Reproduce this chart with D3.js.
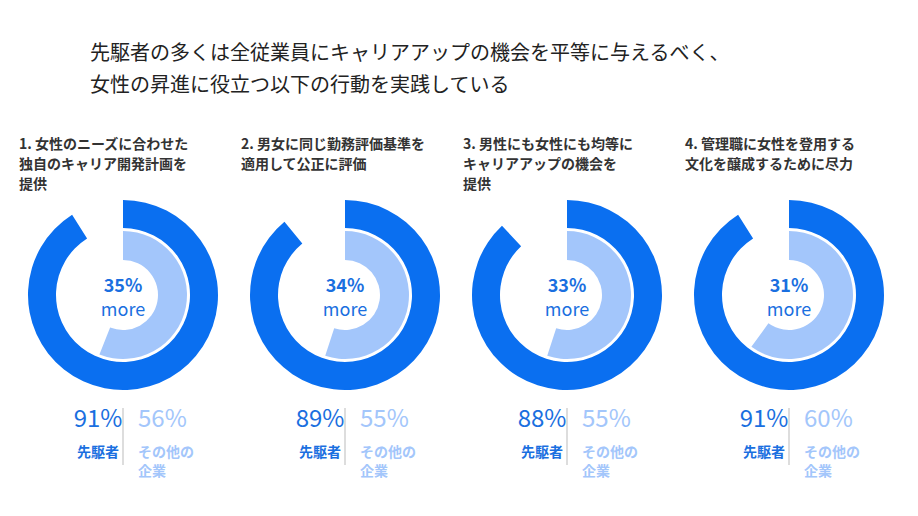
<!DOCTYPE html><html><head><meta charset="utf-8"><script src="https://cdn.jsdelivr.net/npm/d3@7"></script>
<style>body{margin:0;background:#fff}text{font-family:"Noto Sans CJK JP",sans-serif}</style></head><body>
<svg id="c" width="918" height="516"></svg>
<script>
const titleLines=["先駆者の多くは全従業員にキャリアアップの機会を平等に与えるべく、","女性の昇進に役立つ以下の行動を実践している"];
const headings=[["1. 女性のニーズに合わせた","独自のキャリア開発計画を","提供"],["2. 男女に同じ勤務評価基準を","適用して公正に評価"],["3. 男性にも女性にも均等に","キャリアアップの機会を","提供"],["4. 管理職に女性を登用する","文化を醸成するために尽力"]];
const leaders=[91,89,88,91];
const others=[56,55,55,60];
const diffs=[35,34,33,31];
const labelLeader="先駆者", labelOther=["その他の","企業"];
const svg=d3.select("#c");
const dark="#0a6ff0", light="#a3c6fb", txt="#1a6fe0";
svg.selectAll("text.t").data(titleLines).join("text").attr("x",90).attr("y",(d,i)=>60+i*32).attr("font-size",20).attr("fill","#222").text(d=>d);
const x=d3.scaleLinear().domain([0,3]).range([123,789]);
const ang=d3.scaleLinear().domain([0,100]).range([0,2*Math.PI]);
headings.forEach((h,i)=>{
 const cx=x(i), g=svg.append("g");
 g.selectAll("text.h").data(h).join("text").attr("x",cx-104).attr("y",(d,j)=>149+j*20).attr("font-size",14).attr("font-weight","bold").attr("fill","#333").text(d=>d);
 const c=g.append("g").attr("transform",`translate(${cx},295)`);
 c.append("path").attr("d",d3.arc()({innerRadius:67,outerRadius:95,startAngle:0,endAngle:ang(leaders[i])})).attr("fill",dark);
 c.append("path").attr("d",d3.arc()({innerRadius:35,outerRadius:64,startAngle:0,endAngle:ang(others[i])})).attr("fill",light);
 c.append("text").attr("text-anchor","middle").attr("y",-3).attr("font-size",18).attr("font-weight","bold").attr("fill",txt).attr("font-family","Open Sans").text(diffs[i]+"%");
 c.append("text").attr("text-anchor","middle").attr("y",21).attr("font-size",18).attr("fill",txt).attr("font-family","Open Sans").text("more");
 g.append("line").attr("x1",cx).attr("x2",cx).attr("y1",408).attr("y2",465).attr("stroke","#bbb");
 g.append("text").attr("x",cx-25).attr("y",427).attr("text-anchor","middle").attr("font-size",24).attr("fill",txt).attr("font-family","Open Sans").text(leaders[i]+"%");
 g.append("text").attr("x",cx+15).attr("y",427).attr("font-size",24).attr("fill",light).attr("font-family","Open Sans").text(others[i]+"%");
 g.append("text").attr("x",cx-25).attr("y",457).attr("text-anchor","middle").attr("font-size",14).attr("font-weight","bold").attr("fill",txt).text(labelLeader);
 g.selectAll("text.o").data(labelOther).join("text").attr("x",cx+15).attr("y",(d,j)=>457+j*19).attr("font-size",14).attr("font-weight","bold").attr("fill",light).text(d=>d);
});
</script></body></html>
